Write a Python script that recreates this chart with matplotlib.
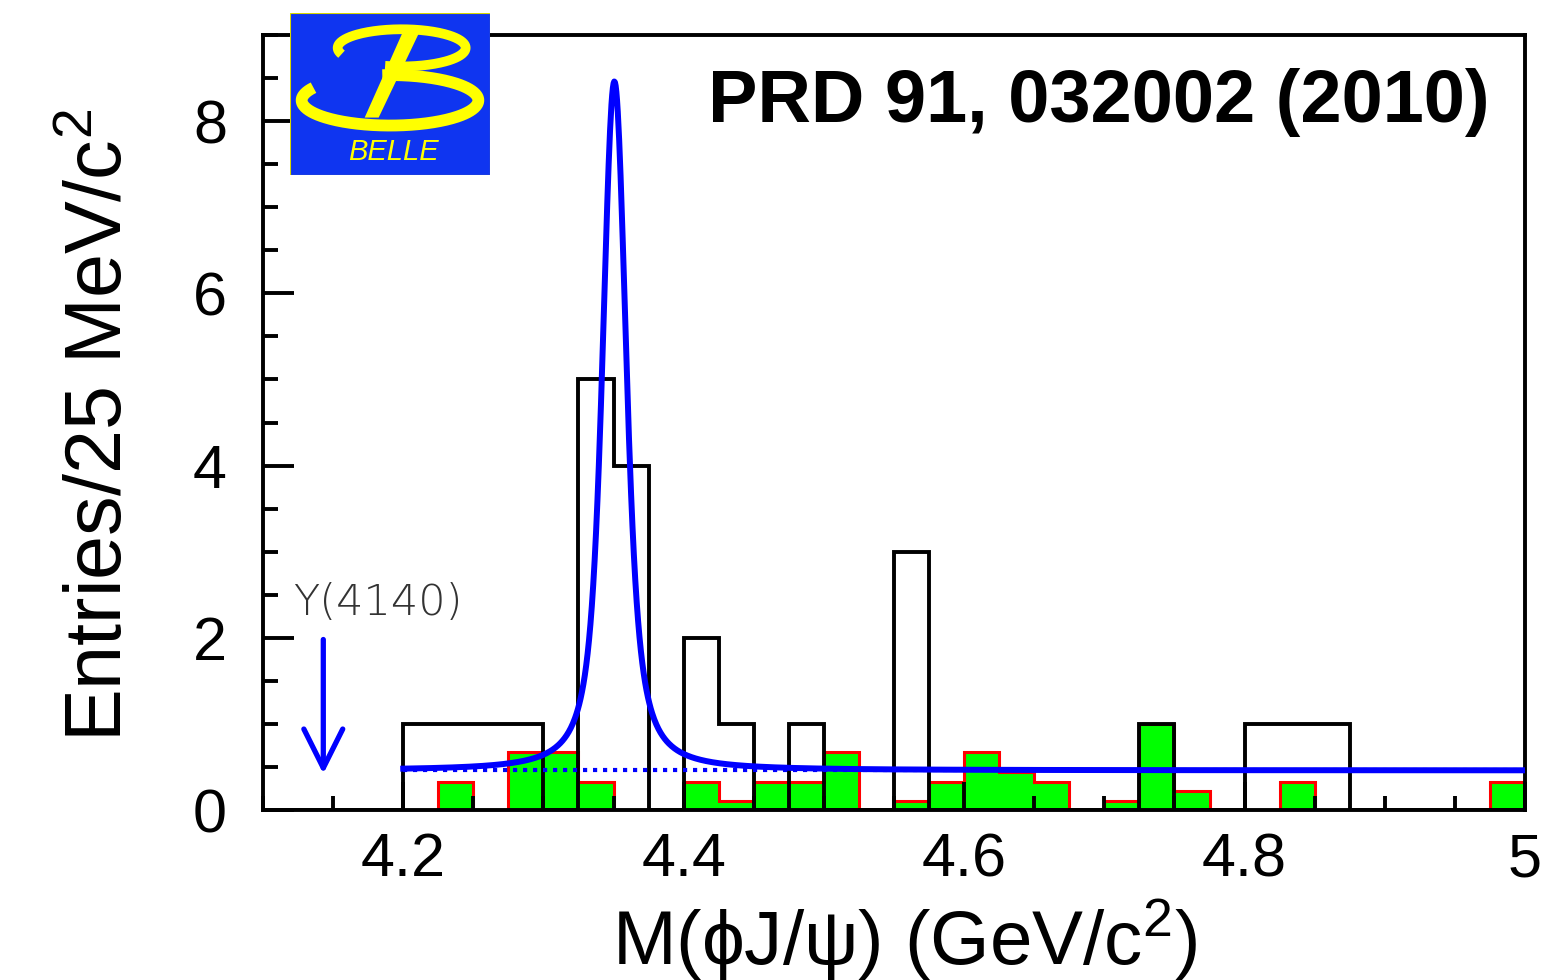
import numpy as np
import matplotlib
matplotlib.use("Agg")
import matplotlib.pyplot as plt
from matplotlib.ticker import MultipleLocator, FixedLocator
from matplotlib.patches import Rectangle, Polygon

plt.rcParams['font.family'] = ['Liberation Sans', 'DejaVu Sans']
plt.rcParams['mathtext.fontset'] = 'custom'
plt.rcParams['mathtext.rm'] = 'Liberation Sans'
plt.rcParams['mathtext.it'] = 'Liberation Sans:italic'
plt.rcParams['mathtext.bf'] = 'Liberation Sans:bold'

# 25 MeV bins, 4.100 - 5.000 GeV
bin_lo, bin_hi, bin_w = 4.10, 5.00, 0.025
signal_counts = [0, 0, 0, 0,  1, 1, 1, 1,  0, 5, 4, 0,
                 2, 1, 0, 1,  0, 0, 3, 0,  0, 0, 0, 0,
                 0, 1, 0, 0,  1, 1, 1, 0,  0, 0, 0, 0]
sideband_scaled = [0, 0, 0, 0,  0, 0.33, 0, 0.67,  0.67, 0.33, 0, 0,
                   0.33, 0.11, 0.33, 0.33,  0.67, 0, 0.11, 0.33,
                   0.67, 0.44, 0.33, 0,  0.11, 1.0, 0.22, 0,
                   0, 0.33, 0, 0,  0, 0, 0, 0.33]

# fit: Breit-Wigner (smeared by resolution) on a flat background
fit_mass, fit_width, fit_resol = 4.3506, 0.013, 0.005
fit_peak = 8.0
fit_bkg = 0.46
fit_lo, fit_hi = 4.20, 5.00

# Y(4140) marker
y4140_mass = 4.143
arrow_top, arrow_tip = 1.98, 0.42

x_ticks = [4.2, 4.4, 4.6, 4.8, 5.0]
x_ticklabels = ['4.2', '4.4', '4.6', '4.8', '5']

edges = np.linspace(bin_lo, bin_hi, len(signal_counts) + 1)

fine = np.arange(fit_lo - 0.06, fit_hi + 0.06, 0.0005)
bw = 1.0 / (1.0 + ((fine - fit_mass) / (fit_width / 2)) ** 2)
u = np.arange(-0.03, 0.03 + 1e-9, 0.0005)
kern = np.exp(-0.5 * (u / fit_resol) ** 2)
kern /= kern.sum()
smeared = np.convolve(bw, kern, mode='same')
m = np.linspace(fit_lo, fit_hi, 1601)
sig = np.interp(m, fine, smeared)
sig *= fit_peak / sig.max()
total = fit_bkg + sig

W, H = 1547, 980
fig = plt.figure(figsize=(W / 100, H / 100), dpi=100)
ax = fig.add_axes([263 / W, 1 - 810 / H, (1525 - 263) / W, (810 - 35) / H])
ax.set_axisbelow(False)

ax.stairs(sideband_scaled, edges, baseline=0, fill=True, color='#00ff00', lw=0, zorder=1)
ax.stairs(sideband_scaled, edges, baseline=0, color='#ff0000', lw=2.2, zorder=1.2)
ax.stairs(signal_counts, edges, baseline=0, color='black', lw=2.8, zorder=1.4)
ax.plot([fit_lo, fit_hi], [fit_bkg, fit_bkg], color='#0000ff', lw=3,
        ls=(0, (1, 1.4)), zorder=2.8)
ax.plot(m, total, color='#0000ff', lw=4.3, zorder=3)

ax.annotate('', xy=(y4140_mass, arrow_tip), xytext=(y4140_mass, arrow_top),
            arrowprops=dict(arrowstyle='->,head_length=1.0,head_width=0.5',
                            mutation_scale=28, color='#0000ff', lw=3.8,
                            shrinkA=0, shrinkB=0), zorder=3)
ax.text(4.1214, 2.27, 'Y(4140)', fontsize=31, color='#333333',
        family=['DejaVu Sans'], fontweight='light', ha='left', va='baseline')

ax.set_xlim(bin_lo, bin_hi)
ax.set_ylim(0, 9)
ax.xaxis.set_major_locator(FixedLocator(x_ticks))
ax.set_xticklabels(x_ticklabels)
ax.xaxis.set_minor_locator(MultipleLocator(0.05))
ax.yaxis.set_major_locator(MultipleLocator(2))
ax.yaxis.set_minor_locator(MultipleLocator(0.5))
ax.tick_params(which='both', direction='in', top=False, right=False, width=2.8,
               labelsize=44)
ax.tick_params(axis='x', which='major', length=20, pad=16)
ax.tick_params(axis='x', which='minor', length=10)
ax.tick_params(axis='y', which='major', length=22, pad=26)
ax.tick_params(axis='y', which='minor', length=11)
for s in ax.spines.values():
    s.set_linewidth(2.8)

fig.text(122 / W, 1 - 425 / H, 'Entries/25 MeV/c$^2$', rotation=90,
         rotation_mode='anchor', ha='center', va='baseline', fontsize=57)
fig.text(905 / W, 1 - 965 / H, 'M(ϕJ/ψ) (GeV/c$^2$)', ha='center',
         va='baseline', fontsize=55)
fig.text(1490 / W, 1 - 122 / H, 'PRD 91, 032002 (2010)', ha='right',
         va='baseline', fontsize=53.3, fontweight='bold')

# experiment logo
logo = fig.add_axes([290 / W, 1 - 175 / H, 200 / W, 162 / H])
logo.set_xlim(90, 690)
logo.set_ylim(525, 37)
logo.axis('off')
logo.add_patch(Rectangle((90, 37), 600, 488, facecolor='#0f35f0',
                         edgecolor='#d8d800', lw=0.8))
yellow = '#ffff00'
t = np.radians(np.linspace(200, -105, 200))
logo.plot(425 + 192 * np.cos(t), 142 - 56 * np.sin(t), color=yellow, lw=7,
          solid_capstyle='butt')
t = np.radians(np.linspace(150, 455, 240))
logo.plot(390 + 265 * np.cos(t), 300 - 76 * np.sin(t), color=yellow, lw=8.5,
          solid_capstyle='butt')
logo.add_patch(Polygon([(428, 95), (478, 95), (356, 352), (314, 352)],
                       closed=True, facecolor=yellow, edgecolor='none'))
logo.text(400, 455, 'BELLE', color=yellow, fontsize=21, style='italic',
          ha='center', va='center')

fig.savefig('out.png', dpi=100)
